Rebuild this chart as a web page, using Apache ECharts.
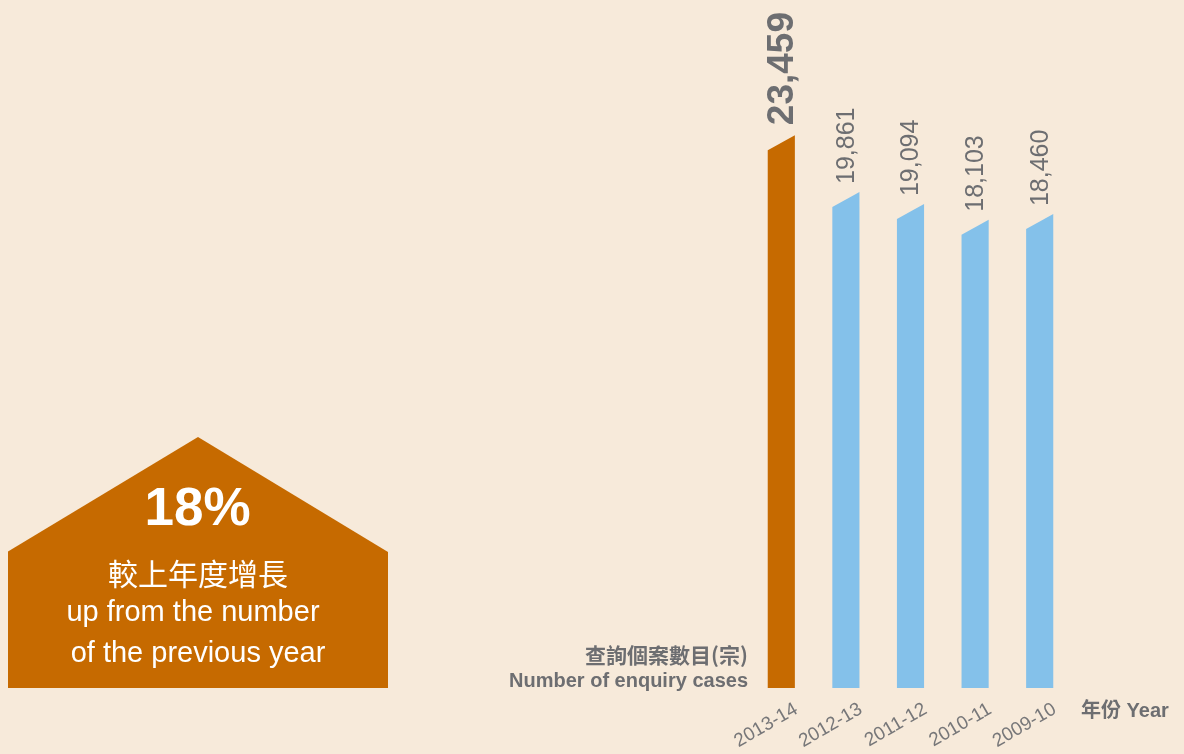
<!DOCTYPE html>
<html>
<head>
<meta charset="utf-8">
<script src="https://cdn.jsdelivr.net/npm/echarts@6/dist/echarts.min.js"></script>
<style>
  html, body { margin: 0; padding: 0; background: #F7EADA; }
  #chart { width: 1184px; height: 754px; }
</style>
</head>
<body>
<div id="chart"></div>
<script>
// ---- data ----
const years = ['2013-14', '2012-13', '2011-12', '2010-11', '2009-10'];
const enquiryCases = [23459, 19861, 19094, 18103, 18460];
const growthText = '18%';
const yAxisNameZh = '查詢個案數目(宗)';
const yAxisNameEn = 'Number of enquiry cases';
const xAxisName = '年份 Year';
const noteZh = '較上年度增長';
const noteEn1 = 'up from the number';
const noteEn2 = 'of the previous year';

// ---- styles ----
const ORANGE = '#C66A00';
const BLUE = '#84C1EA';
const GREY = '#6D6E71';
const LATIN = '"Liberation Sans", Arial, Helvetica, sans-serif';
const CJK = '"Noto Sans CJK TC", "Noto Sans CJK SC", sans-serif';
const Y_MIN = -10600, Y_MAX = 32970;

const chart = echarts.init(document.getElementById('chart'), null, { renderer: 'canvas' });

function fmt(n) { return n.toLocaleString('en-US'); }

const option = {
  backgroundColor: '#F7EADA',
  animation: false,
  grid: { left: 749, right: 112, top: 0, bottom: 66 },
  xAxis: {
    type: 'category',
    data: years,
    axisLine: { show: false },
    axisTick: { show: false },
    axisLabel: { show: false }
  },
  yAxis: {
    type: 'value',
    min: Y_MIN,
    max: Y_MAX,
    show: false,
    splitLine: { show: false }
  },
  series: [{
    type: 'custom',
    data: enquiryCases.map((v, i) => [i, v]),
    renderItem: function (params, api) {
      const i = api.value(0);
      const v = api.value(1);
      const top = api.coord([i, v]);
      const base = api.coord([i, Y_MIN]);
      const w = api.size([1, 0])[0] * 0.42;
      const cx = top[0];
      const slant = 15;
      const hi = i === 0;
      const rightTop = top[1] - slant;
      return {
        type: 'group',
        children: [
          {
            type: 'polygon',
            shape: { points: [[cx - w / 2, base[1]], [cx - w / 2, top[1]], [cx + w / 2, rightTop], [cx + w / 2, base[1]]] },
            style: { fill: hi ? ORANGE : BLUE }
          },
          {
            type: 'text',
            x: cx + 1,
            y: rightTop - (hi ? 10 : 8),
            rotation: Math.PI / 2,
            style: {
              text: fmt(enquiryCases[i]),
              fill: GREY,
              font: (hi ? 'bold 37px ' : 'normal 25px ') + LATIN,
              align: 'left',
              verticalAlign: 'middle'
            }
          },
          {
            type: 'text',
            x: cx + 15,
            y: base[1] + 20,
            rotation: Math.PI / 6,
            style: {
              text: years[i],
              fill: '#777779',
              font: 'normal 19px ' + LATIN,
              align: 'right',
              verticalAlign: 'middle'
            }
          }
        ]
      };
    }
  }],
  graphic: [
    {
      type: 'polygon',
      shape: { points: [[8, 551.5], [198, 437], [388, 552], [388, 688], [8, 688]] },
      style: { fill: ORANGE }
    },
    { type: 'text', x: 197.5, y: 510.5, style: { text: growthText, fill: '#fff', font: 'bold 53px ' + LATIN, align: 'center', verticalAlign: 'middle' } },
    { type: 'text', x: 198, y: 573.5, style: { text: noteZh, fill: '#fff', font: 'normal 30px ' + CJK, align: 'center', verticalAlign: 'middle' } },
    { type: 'text', x: 193, y: 613, style: { text: noteEn1, fill: '#fff', font: 'normal 29px ' + LATIN, align: 'center', verticalAlign: 'middle' } },
    { type: 'text', x: 198, y: 654, style: { text: noteEn2, fill: '#fff', font: 'normal 29px ' + LATIN, align: 'center', verticalAlign: 'middle' } },
    { type: 'text', x: 748, y: 655, style: { text: yAxisNameZh, fill: GREY, font: 'bold 21px ' + CJK, align: 'right', verticalAlign: 'middle' } },
    { type: 'text', x: 748, y: 681, style: { text: yAxisNameEn, fill: GREY, font: 'bold 20px ' + LATIN, align: 'right', verticalAlign: 'middle' } },
    { type: 'text', x: 1081, y: 711, style: { text: xAxisName, fill: GREY, font: 'bold 20px ' + LATIN + ', ' + CJK, align: 'left', verticalAlign: 'middle' } }
  ]
};
chart.setOption(option);
</script>
</body>
</html>
